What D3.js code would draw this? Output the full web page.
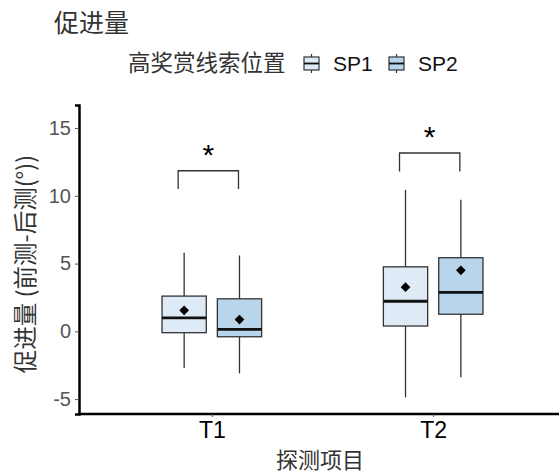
<!DOCTYPE html>
<html>
<head>
<meta charset="utf-8">
<style>
  body { margin: 0; background: #fff; }
  svg text { font-family: "Liberation Sans", Arial, "Noto Sans CJK SC", sans-serif; }
  .cjk { font-family: "Noto Sans CJK SC", sans-serif; }
</style>
</head>
<body>
<div id="chart"></div>
<script src="https://cdn.jsdelivr.net/npm/d3@7"></script>
<script>
// data
var categories = ["T1", "T2"];
var groups = ["SP1", "SP2"];
var lowSP1 = [-2.7, -4.87], q1SP1 = [-0.1, 0.39], medSP1 = [1.0, 2.22], q3SP1 = [2.6, 4.76], highSP1 = [5.8, 10.44], meanSP1 = [1.55, 3.26];
var lowSP2 = [-3.1, -3.38], q1SP2 = [-0.4, 1.26], medSP2 = [0.15, 2.87], q3SP2 = [2.4, 5.43], highSP2 = [5.6, 9.7], meanSP2 = [0.87, 4.5];
var bracketTop = [11.85, 13.16], bracketEnd = [10.5, 11.8], sigLabels = ["*", "*"];
var yTicks = [-5, 0, 5, 10, 15];

var width = 559, height = 474;
var colors = {SP1: "#deebf7", SP2: "#b9d5eb"};

var svg = d3.select("#chart").append("svg").attr("width", width).attr("height", height);

var x = d3.scalePoint().domain(categories).range([79, 566]).padding(0.6);
var step = x.step();
var xg = d3.scaleBand().domain(groups).range([-0.25 * step, 0.25 * step]);
var y = d3.scaleLinear().domain([-6.1, 16.7]).range([414, 105]);
var boxW = xg.bandwidth() * 0.8;

// build rows
var rows = [];
categories.forEach(function(c, i) {
  rows.push({cat: c, grp: "SP1", lo: lowSP1[i], q1: q1SP1[i], med: medSP1[i], q3: q3SP1[i], hi: highSP1[i], mean: meanSP1[i]});
  rows.push({cat: c, grp: "SP2", lo: lowSP2[i], q1: q1SP2[i], med: medSP2[i], q3: q3SP2[i], hi: highSP2[i], mean: meanSP2[i]});
});
var cx = function(d) { return x(d.cat) + xg(d.grp) + xg.bandwidth() / 2; };

// whiskers
var g = svg.append("g");
g.selectAll(".wh").data(rows).enter().append("line")
  .attr("x1", cx).attr("x2", cx)
  .attr("y1", d => y(d.hi)).attr("y2", d => y(d.lo))
  .attr("stroke", "#333").attr("stroke-width", 1.3);

// boxes
g.selectAll(".box").data(rows).enter().append("rect")
  .attr("x", d => cx(d) - boxW / 2).attr("width", boxW)
  .attr("y", d => y(d.q3)).attr("height", d => y(d.q1) - y(d.q3))
  .attr("fill", d => colors[d.grp]).attr("stroke", "#333").attr("stroke-width", 1.3);

// medians
g.selectAll(".med").data(rows).enter().append("line")
  .attr("x1", d => cx(d) - boxW / 2).attr("x2", d => cx(d) + boxW / 2)
  .attr("y1", d => y(d.med)).attr("y2", d => y(d.med))
  .attr("stroke", "#111").attr("stroke-width", 2.8);

// means
g.selectAll(".mean").data(rows).enter().append("path")
  .attr("d", d3.symbol(d3.symbolDiamond2, 60))
  .attr("transform", d => "translate(" + cx(d) + "," + y(d.mean) + ")")
  .attr("fill", "#000");

// significance brackets
categories.forEach(function(c, i) {
  var xa = x(c) + xg("SP1") + xg.bandwidth() / 2 - 6;
  var xb = x(c) + xg("SP2") + xg.bandwidth() / 2 - 1;
  svg.append("path")
    .attr("d", "M" + xa + "," + y(bracketEnd[i]) + "V" + y(bracketTop[i]) + "H" + xb + "V" + y(bracketEnd[i]))
    .attr("fill", "none").attr("stroke", "#333").attr("stroke-width", 1.3);
  svg.append("text").text(sigLabels[i])
    .attr("x", (xa + xb) / 2).attr("y", y(bracketTop[i]) - 6)
    .attr("text-anchor", "middle").attr("font-size", 30).attr("fill", "#000");
});

// y axis
var yAxis = svg.append("g").attr("transform", "translate(79,0)")
  .call(d3.axisLeft(y).tickValues(yTicks).tickFormat(d => String(d)).tickSize(4).tickPadding(4));
yAxis.select(".domain").attr("stroke", "#000").attr("stroke-width", 2.5);
yAxis.selectAll(".tick line").attr("stroke", "#555");
yAxis.selectAll(".tick text").attr("font-size", 20).attr("fill", "#555");

// x axis
var xAxis = svg.append("g").attr("transform", "translate(0,414)")
  .call(d3.axisBottom(x).tickSize(3).tickPadding(5));
xAxis.select(".domain").attr("d", "M79,0H566").attr("stroke", "#000").attr("stroke-width", 2.5);
xAxis.selectAll(".tick line").attr("stroke", "#555");
xAxis.selectAll(".tick text").attr("font-size", 23).attr("fill", "#000");

// titles
svg.append("text").attr("class", "cjk").text("促进量")
  .attr("x", 54).attr("y", 32).attr("font-size", 25).attr("fill", "#333");

svg.append("text").attr("class", "cjk").text("探测项目")
  .attr("x", 320).attr("y", 468).attr("text-anchor", "middle").attr("font-size", 22).attr("fill", "#333");

svg.append("text").attr("class", "cjk").text("促进量 (前测-后测(°))")
  .attr("transform", "translate(34,264) rotate(-90)")
  .attr("text-anchor", "middle").attr("font-size", 23.5).attr("fill", "#333");

// legend
var leg = svg.append("g");
leg.append("text").attr("class", "cjk").text("高奖赏线索位置")
  .attr("x", 128).attr("y", 71).attr("font-size", 22.5).attr("fill", "#333");
var keyX = {SP1: 303, SP2: 388};
groups.forEach(function(gname) {
  var kx = keyX[gname];
  var kg = leg.append("g").attr("transform", "translate(" + kx + ",0)");
  kg.append("line").attr("x1", 8.5).attr("x2", 8.5).attr("y1", 54).attr("y2", 73).attr("stroke", "#333").attr("stroke-width", 1.2);
  kg.append("rect").attr("x", 1).attr("y", 57).attr("width", 15).attr("height", 13)
    .attr("fill", colors[gname]).attr("stroke", "#333").attr("stroke-width", 1.2);
  kg.append("line").attr("x1", 1).attr("x2", 16).attr("y1", 63.5).attr("y2", 63.5).attr("stroke", "#111").attr("stroke-width", 1.8);
  kg.append("text").text(gname).attr("x", 30).attr("y", 71)
    .attr("font-size", 21).attr("fill", "#111");
});
</script>
</body>
</html>
